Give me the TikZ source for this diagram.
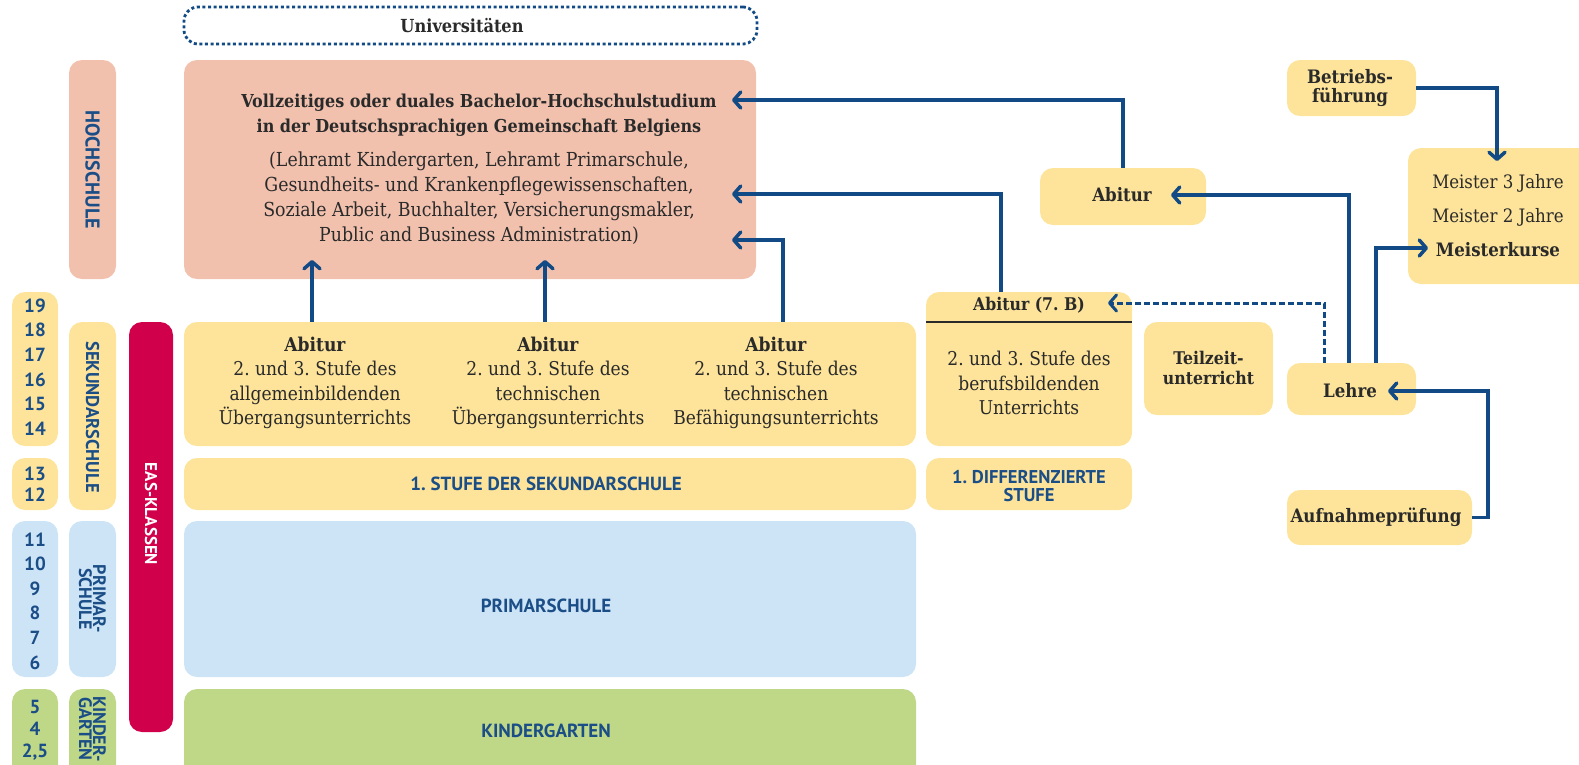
\documentclass[tikz,border=0pt]{standalone}
\usepackage{fontspec}
\setmainfont{DejaVu Serif Condensed}
\newfontfamily\capsf{PT Sans}
\usetikzlibrary{arrows.meta}
\definecolor{yel}{HTML}{FDE49A}
\definecolor{pnk}{HTML}{F1C1AE}
\definecolor{lbl}{HTML}{CDE4F7}
\definecolor{grn}{HTML}{BFD888}
\definecolor{easred}{HTML}{D1004B}
\definecolor{navy}{HTML}{1B4E87}
\definecolor{arr}{HTML}{114A85}
\definecolor{ink}{HTML}{2A2A2A}
\frenchspacing
\begin{document}
\begin{tikzpicture}[x=1pt,y=-1pt,
  box/.style={rounded corners=13pt, inner sep=0pt, anchor=center, draw=none},
  caps/.style={font=\capsf\bfseries\fontsize{19}{21}\selectfont, text=navy, align=center, inner sep=0pt},
  yrs/.style={font=\capsf\bfseries\fontsize{19}{24.6}\selectfont, text=navy, align=center, inner sep=0pt},
  body/.style={font=\fontsize{19}{24.5}\selectfont, text=ink, align=center, inner sep=0pt},
  bodyb/.style={font=\bfseries\fontsize{18.5}{20}\selectfont, text=ink, align=center, inner sep=0pt},
  conn/.style={draw=arr, line width=3.5pt, -{Straight Barb[length=7pt,width=16pt,round]}},
  dconn/.style={conn, line width=3pt, dash pattern=on 6pt off 3pt},
]
\useasboundingbox (0,0) rectangle (1579,764);

% ---------- boxes ----------
\node[box, draw=arr, line width=2.8pt, dash pattern=on 3pt off 2.6pt, rounded corners=14pt,
      minimum width=573pt, minimum height=37pt] (univ) at (470.5,25.5) {};
\node[bodyb, font=\bfseries\fontsize{18}{20}\selectfont] (univT) at (462,26) {Universitäten};

\node[box, fill=pnk, minimum width=572pt, minimum height=219pt] (hoch) at (470,169.5) {};
\node[box, fill=pnk, minimum width=47pt, minimum height=219pt] (hochlbl) at (92.5,169.5) {};
\node[caps, rotate=-90, font=\capsf\bfseries\fontsize{20}{21}\selectfont] (hochlblT) at (92.5,169.5) {HOCHSCHULE};

\node[box, fill=yel, minimum width=46pt, minimum height=154pt] (yr1) at (35,369) {};
\node[box, fill=yel, minimum width=46pt, minimum height=52pt] (yr2) at (35,484) {};
\node[box, fill=lbl, minimum width=46pt, minimum height=156pt] (yr3) at (35,599) {};
\node[box, fill=grn, minimum width=46pt, minimum height=156pt] (yr4) at (35,767) {};
\node[yrs] (yr1T) at (35,367) {19\\18\\17\\16\\15\\14};
\node[yrs, font=\capsf\bfseries\fontsize{19}{21}\selectfont] (yr2T) at (35,484) {13\\12};
\node[yrs] (yr3T) at (35,601) {11\\10\\9\\8\\7\\6};
\node[yrs, font=\capsf\bfseries\fontsize{19}{22}\selectfont] (yr4T) at (35,730) {5\\4\\2,5};

\node[box, fill=yel, minimum width=47pt, minimum height=188pt] (seklbl) at (92.5,416) {};
\node[caps, rotate=-90, font=\capsf\bfseries\fontsize{18.5}{21}\selectfont] (seklblT) at (92.5,417) {SEKUNDARSCHULE};
\node[box, fill=lbl, minimum width=47pt, minimum height=156pt] (primlbl) at (92.5,599) {};
\node[caps, rotate=-90, font=\capsf\bfseries\fontsize{18}{14}\selectfont] (primlblT) at (92.5,599) {PRIMAR-\\SCHULE};
\node[box, fill=grn, minimum width=47pt, minimum height=156pt] (kglbl) at (92.5,767) {};
\node[caps, rotate=-90, font=\capsf\bfseries\fontsize{18}{14}\selectfont] (kglblT) at (92.5,729) {KINDER-\\GARTEN};

\node[box, fill=easred, minimum width=44pt, minimum height=410pt] (eas) at (151,527) {};
\node[caps, rotate=-90, text=white, font=\capsf\bfseries\fontsize{17}{18}\selectfont] (easT) at (151,514) {EAS-KLASSEN};

\node[box, fill=yel, minimum width=732pt, minimum height=124pt] (abicols) at (550,384) {};
\node[body] (c1) at (315,383) {\textbf{Abitur}\\2. und 3. Stufe des\\allgemeinbildenden\\Übergangsunterrichts};
\node[body] (c2) at (548,383) {\textbf{Abitur}\\2. und 3. Stufe des\\technischen\\Übergangsunterrichts};
\node[body] (c3) at (776,383) {\textbf{Abitur}\\2. und 3. Stufe des\\technischen\\Befähigungsunterrichts};

\node[box, fill=yel, minimum width=732pt, minimum height=52pt] (stufe1) at (550,484) {};
\node[caps] (stufe1T) at (546,484) {1. STUFE DER SEKUNDARSCHULE};
\node[box, fill=lbl, minimum width=732pt, minimum height=156pt] (prim) at (550,599) {};
\node[caps] (primT) at (546,606) {PRIMARSCHULE};
\node[box, fill=grn, minimum width=732pt, minimum height=156pt] (kg) at (550,767) {};
\node[caps] (kgT) at (546,731) {KINDERGARTEN};

\node[box, fill=yel, minimum width=206pt, minimum height=154pt] (abi7) at (1029,369) {};
\draw[ink, line width=2pt] ([yshift=-30pt]abi7.north west) -- ([yshift=-30pt]abi7.north east);
\node[bodyb, font=\bfseries\fontsize{17.5}{20}\selectfont] (abi7T) at (1029,305) {Abitur (7. B)};
\node[body] (abi7B) at (1029,383) {2. und 3. Stufe des\\berufsbildenden\\Unterrichts};
\node[box, fill=yel, minimum width=206pt, minimum height=52pt] (diff) at (1029,484) {};
\node[caps, font=\capsf\bfseries\fontsize{18.5}{18}\selectfont] (diffT) at (1029,486) {1. DIFFERENZIERTE\\STUFE};

\node[box, fill=yel, minimum width=129pt, minimum height=93pt] (teil) at (1208.5,368.5) {};
\node[bodyb, font=\bfseries\fontsize{17.5}{20}\selectfont] (teilT) at (1208.5,368) {Teilzeit-\\unterricht};

\node[box, fill=yel, minimum width=166pt, minimum height=57pt] (abiU) at (1123,196.5) {};
\node[bodyb] (abiUT) at (1122,195) {Abitur};

\node[box, fill=yel, minimum width=129pt, minimum height=52pt] (lehre) at (1351.5,389) {};
\node[bodyb] (lehreT) at (1350,391) {Lehre};

\node[box, fill=yel, minimum width=185pt, minimum height=55pt] (aufn) at (1379.5,517.5) {};
\node[bodyb] (aufnT) at (1376,517) {Aufnahmeprüfung};

\node[box, fill=yel, minimum width=129pt, minimum height=56pt] (betr) at (1351.5,88) {};
\node[bodyb, font=\bfseries\fontsize{18.5}{19}\selectfont] (betrT) at (1350,88.5) {Betriebs-\\führung};

\node[box, fill=yel, minimum width=212pt, minimum height=136pt] (meister) at (1514,216) {};
\node[body, font=\fontsize{18.5}{34}\selectfont] (meisterT) at (1498,216) {Meister 3 Jahre\\Meister 2 Jahre\\\textbf{Meisterkurse}};

% ---------- Hochschule text ----------
\node[bodyb, font=\bfseries\fontsize{17.8}{25}\selectfont] (hochT1) at (479,115.5) {Vollzeitiges oder duales Bachelor-Hochschulstudium\\in der Deutschsprachigen Gemeinschaft Belgiens};
\node[body, font=\fontsize{19.3}{25}\selectfont] (hochT2) at (479,198.5) {(Lehramt Kindergarten, Lehramt Primarschule,\\Gesundheits- und Krankenpflegewissenschaften,\\Soziale Arbeit, Buchhalter, Versicherungsmakler,\\Public and Business Administration)};

% ---------- connectors ----------
\coordinate (t1) at (732,100);
\coordinate (t2) at (732,194);
\coordinate (t3) at (732,240);
\coordinate (t4) at (312,260);
\coordinate (t5) at (545,260);
\coordinate (t6) at (1171,195);
\coordinate (t7) at (1108,303);
\coordinate (t8) at (1428,248);
\coordinate (t9) at (1497,161);
\coordinate (b10) at (1488,391);
\coordinate (t10) at (1388,391);

\draw[conn] (abiU.north) |- (t1);
\draw[conn] ([xshift=-28pt]abi7.north) |- (t2);
\draw[conn] ([xshift=233pt]abicols.north) |- (t3);
\draw[conn] ([xshift=-238pt]abicols.north) -- (t4);
\draw[conn] ([xshift=-5pt]abicols.north) -- (t5);
\draw[conn] ([xshift=-2.5pt]lehre.north) |- (t6);
\draw[dconn] ([xshift=-27.5pt]lehre.north) |- (t7);
\draw[conn] ([xshift=24.5pt]lehre.north) |- (t8);
\draw[conn] (betr.east) -| (t9);
\draw[conn] (aufn.east) -| (b10) -- (t10);
\end{tikzpicture}
\end{document}
